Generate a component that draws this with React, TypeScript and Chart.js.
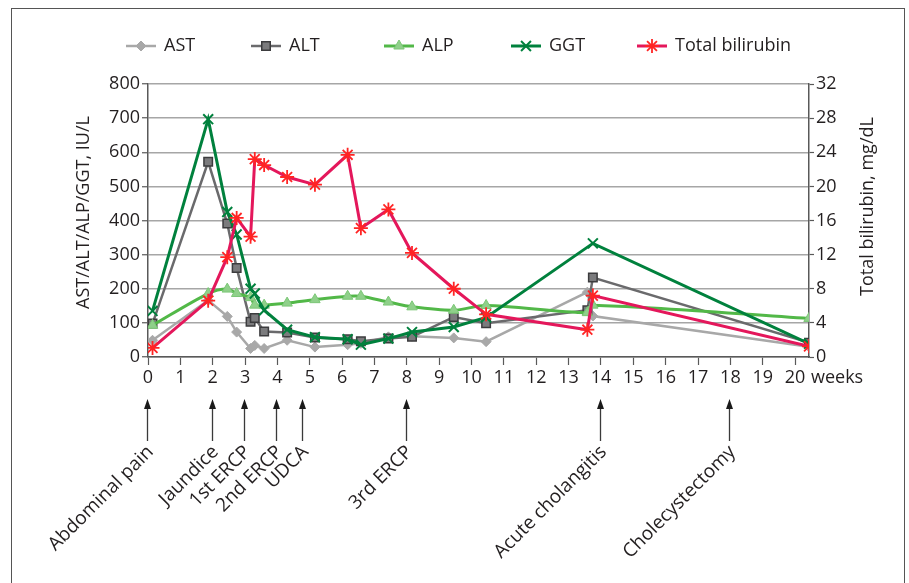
import React, { useEffect, useRef } from 'react';
import { Chart, registerables } from 'chart.js';
import { drawPoint } from 'chart.js/helpers';

Chart.register(...registerables);

// ---- data ----
const weeks = [0.14, 1.86, 2.45, 2.74, 3.17, 3.3, 3.59, 4.3, 5.16, 6.17, 6.58, 7.43, 8.16, 9.45, 10.45, 13.58, 13.75, 20.43];
const astValues = [49, 166, 119, 73, 25, 34, 25, 49, 29, 36, 40, 59, 61, 56, 45, 190, 120, 30];
const altValues = [98, 572, 391, 261, 103, 114, 75, 72, 57, 52, 46, 54, 59, 117, 99, 137, 233, 42];
const alpValues = [93, 186, 199, 186, 174, 152, 152, 158, 168, 178, 178, 161, 147, 137, 151, 130, 152, 113];
const ggtValues = [135, 697, 425, 359, 200, 186, 137, 80, 58, 52, 36, 54, 73, 88, 116, null, 333, 39];
const bilirubinValues = [1.06, 6.6, 11.7, 16.3, 14.1, 23.2, 22.5, 21.1, 20.2, 23.7, 15.1, 17.3, 12.2, 8.0, 5.0, 3.2, 7.2, 1.25];

const seriesNames = ['AST', 'ALT', 'ALP', 'GGT', 'Total bilirubin'];
const xTickWeeks = [0, 1, 2, 3, 4, 5, 6, 7, 8, 9, 10, 11, 12, 13, 14, 15, 16, 17, 18, 19, 20];
const eventWeeks = [0, 2, 3, 4, 4.8, 8, 14, 18];
const eventLabels = ['Abdominal pain', 'Jaundice', '1st ERCP', '2nd ERCP', 'UDCA', '3rd ERCP', 'Acute cholangitis', 'Cholecystectomy'];
const leftAxisTitle = 'AST/ALT/ALP/GGT, IU/L';
const rightAxisTitle = 'Total bilirubin, mg/dL';
const xUnit = 'weeks';

// ---- styles ----
const FONT = '"Open Sans", "Noto Sans", sans-serif';
const TEXT = '#231f20';
const AXIS = '#595959';
const GRID = '#a6a6a6';

const styles = [
  { line: '#a8a8a8', fill: '#a8a8a8', border: '#a8a8a8', point: 'rectRot', radius: 5, bw: 1, width: 2.5 },
  { line: '#6a6a6c', fill: '#7b7b7d', border: '#3c3c3e', point: 'rect', radius: 6, bw: 1.5, width: 2.5 },
  { line: '#52b848', fill: '#8fd08a', border: '#7cc777', point: 'triangle', radius: 6, bw: 1, width: 3 },
  { line: '#00813d', fill: '#00813d', border: '#00813d', point: 'crossRot', radius: 7, bw: 2, width: 3 },
  { line: '#e4175b', fill: '#ff2424', border: '#ff2424', point: 'star', radius: 7, bw: 1.8, width: 3 },
];

const toPoints = (vals: (number | null)[]) => weeks.map((w, i) => ({ x: w, y: vals[i] }));

const decorPlugin = {
  id: 'decor',
  afterDraw(chart: any) {
    const ctx = chart.ctx as CanvasRenderingContext2D;
    const xs = chart.scales.x;
    const area = chart.chartArea;
    ctx.save();

    // frame
    ctx.strokeStyle = '#555555';
    ctx.lineWidth = 1;
    ctx.strokeRect(11.5, 8.5, 893, 700);

    ctx.fillStyle = TEXT;
    ctx.font = `18px ${FONT}`;

    // left axis title
    ctx.save();
    ctx.translate(84, (area.top + area.bottom) / 2 - 8);
    ctx.rotate(-Math.PI / 2);
    ctx.textAlign = 'center';
    ctx.textBaseline = 'middle';
    ctx.fillText(leftAxisTitle, 0, 0);
    ctx.restore();

    // right axis title
    ctx.save();
    ctx.translate(868, (area.top + area.bottom) / 2 - 14);
    ctx.rotate(-Math.PI / 2);
    ctx.textAlign = 'center';
    ctx.textBaseline = 'middle';
    ctx.fillText(rightAxisTitle, 0, 0);
    ctx.restore();

    // x unit
    ctx.textAlign = 'left';
    ctx.textBaseline = 'middle';
    ctx.fillText(xUnit, area.right + 2, 378);

    // legend
    const legendX = [126, 251, 384, 511, 637];
    const ly = 46;
    seriesNames.forEach((name, i) => {
      const st = styles[i];
      const x0 = legendX[i];
      ctx.strokeStyle = st.line;
      ctx.lineWidth = st.width;
      ctx.beginPath();
      ctx.moveTo(x0, ly);
      ctx.lineTo(x0 + 30, ly);
      ctx.stroke();
      ctx.fillStyle = st.fill;
      ctx.strokeStyle = st.border;
      ctx.lineWidth = st.bw;
      drawPoint(ctx, { pointStyle: st.point, rotation: 0, radius: st.radius, borderWidth: st.bw }, x0 + 15, ly);
      ctx.fillStyle = TEXT;
      ctx.textAlign = 'left';
      ctx.textBaseline = 'middle';
      ctx.fillText(name, x0 + 38, ly);
    });

    // event arrows and labels
    ctx.font = `19px ${FONT}`;
    eventWeeks.forEach((w, i) => {
      const x = Math.round(xs.getPixelForValue(w)) - 0.5;
      ctx.strokeStyle = '#3a3a3a';
      ctx.lineWidth = 1.3;
      ctx.beginPath();
      ctx.moveTo(x, 441);
      ctx.lineTo(x, 405);
      ctx.stroke();
      ctx.fillStyle = '#1a1a1a';
      ctx.beginPath();
      ctx.moveTo(x, 399);
      ctx.lineTo(x - 3.5, 409);
      ctx.lineTo(x + 3.5, 409);
      ctx.closePath();
      ctx.fill();

      ctx.save();
      ctx.translate(x + 3, 449);
      ctx.rotate(-Math.PI / 4);
      ctx.fillStyle = TEXT;
      ctx.textAlign = 'right';
      ctx.textBaseline = 'middle';
      ctx.fillText(eventLabels[i], 0, 0);
      ctx.restore();
    });

    ctx.restore();
  },
};

export default function App() {
  const ref = useRef<HTMLCanvasElement | null>(null);

  useEffect(() => {
    document.body.style.margin = '0';
    const canvas = ref.current;
    if (!canvas) return;
    Chart.defaults.font.family = FONT;
    Chart.defaults.color = TEXT;

    const valueSets = [astValues, altValues, alpValues, ggtValues, bilirubinValues];
    const datasets = valueSets.map((vals, i) => {
      const st = styles[i];
      return {
        label: seriesNames[i],
        data: toPoints(vals),
        yAxisID: i === 4 ? 'y2' : 'y',
        borderColor: st.line,
        backgroundColor: st.fill,
        borderWidth: st.width,
        pointStyle: st.point,
        pointRadius: st.radius,
        pointBackgroundColor: st.fill,
        pointBorderColor: st.border,
        pointBorderWidth: st.bw,
        tension: i === 2 ? 0.3 : 0,
        spanGaps: true,
        fill: false,
        order: 5 - i,
      };
    });

    const chart = new Chart(canvas, {
      type: 'line',
      data: { datasets },
      plugins: [decorPlugin],
      options: {
        responsive: false,
        animation: false,
        layout: { padding: { top: 84, left: 0, right: 0, bottom: 0 } },
        plugins: { legend: { display: false }, tooltip: { enabled: false } },
        scales: {
          x: {
            type: 'linear',
            min: 0,
            max: 20.43,
            afterFit: (s: any) => { s.height = 226; },
            afterBuildTicks: (s: any) => { s.ticks = xTickWeeks.map((v) => ({ value: v })); },
            ticks: { autoSkip: false, maxRotation: 0, minRotation: 0, padding: 2, font: { size: 18 }, color: TEXT },
            grid: { drawOnChartArea: false, drawTicks: true, tickLength: 8, tickColor: AXIS, tickWidth: 1.2 },
            border: { display: true, color: AXIS, width: 1.5 },
          },
          y: {
            type: 'linear',
            position: 'left',
            min: 0,
            max: 800,
            afterFit: (s: any) => { s.width = 148; },
            ticks: { stepSize: 100, padding: 2, font: { size: 18 }, color: TEXT },
            grid: { drawOnChartArea: true, color: GRID, lineWidth: 1.5, drawTicks: true, tickLength: 6, tickColor: AXIS, tickWidth: 1.2 },
            border: { display: true, color: AXIS, width: 1.5 },
          },
          y2: {
            type: 'linear',
            position: 'right',
            min: 0,
            max: 32,
            afterFit: (s: any) => { s.width = 100; },
            ticks: { stepSize: 4, padding: 2, font: { size: 18 }, color: TEXT },
            grid: { drawOnChartArea: false, drawTicks: true, tickLength: 5, tickColor: AXIS, tickWidth: 1.2 },
            border: { display: true, color: AXIS, width: 1.5 },
          },
        },
      },
    } as any);

    return () => chart.destroy();
  }, []);

  return (
    <div style={{ width: 909, height: 583, background: '#ffffff' }}>
      <canvas ref={ref} width={909} height={583} style={{ display: 'block' }} />
    </div>
  );
}
